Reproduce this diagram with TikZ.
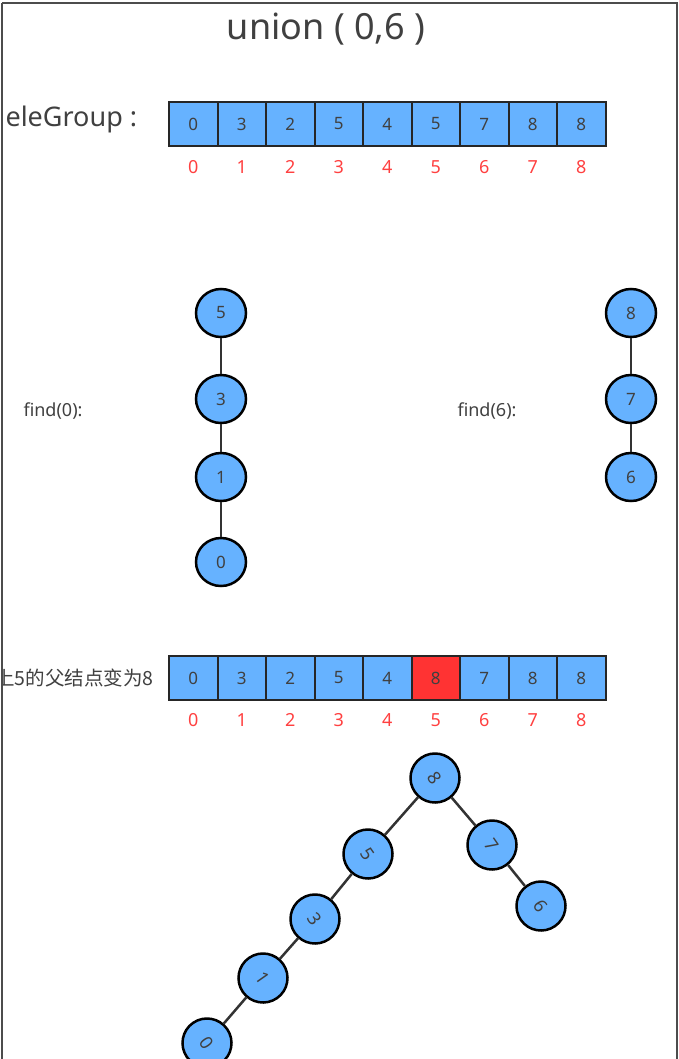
\documentclass[tikz,border=0pt]{standalone}
\usepackage{fontspec}
\setmainfont{Noto Sans}
\newfontfamily\cjkfont{Noto Sans CJK SC}
\usepackage{tikz}
\usetikzlibrary{shapes,arrows}
\usepackage{xcolor}

\definecolor{cellblue}{RGB}{102,178,255}
\definecolor{cellred}{RGB}{255,51,51}
\definecolor{idxred}{RGB}{255,64,64}
\definecolor{txtgray}{RGB}{64,64,64}

\tikzset{
	cell/.style={draw=black!85, line width=2pt, fill=cellblue, minimum width=48.5pt, minimum height=44pt, inner sep=0pt, text=txtgray, font=\fontsize{17}{17}\selectfont},
	idx/.style={text=idxred, font=\fontsize{18}{18}\selectfont},
	vnode/.style={ellipse, draw=black, line width=2.5pt, fill=cellblue, minimum width=50pt, minimum height=48pt, inner sep=0pt, text=txtgray, font=\fontsize{17}{17}\selectfont},
	tnode/.style={circle, draw=black, line width=2.5pt, fill=cellblue, minimum size=49pt, inner sep=0pt, text=txtgray, font=\fontsize{18}{18}\selectfont, rotate=-55},
	link/.style={draw=black!80, line width=2.5pt},
	caption/.style={text=txtgray, font=\fontsize{18}{18}\selectfont}
}

\begin{document}
\begin{tikzpicture}[x=1pt,y=-1pt]
		\useasboundingbox (0,0) rectangle (679,1059);
		\draw[black!70, line width=2.5pt] (2,3) -- (677,3) -- (677,1070);
		\draw[black!70, line width=2.5pt] (2,3) -- (2,1070);
		\node[text=txtgray, font=\fontsize{36}{36}\selectfont] (title) at (326,29) {union ( 0,6 )};
		% first array
		\node[anchor=west, text=txtgray, font=\fontsize{27}{27}\selectfont] (elegroup) at (2,119) {eleGroup :};
		\foreach \v [count=\i from 0] in {0,3,2,5,4,5,7,8,8} {
			\node[cell] (a\i) at (193.25+48.5*\i,124) {\v};
			\node[idx] (ai\i) at (193.25+48.5*\i,167) {\i};
		}
		% find(0)
		\node[caption] (findA) at (53,411) {find(0):};
		\node[vnode] (p5) at (221,313) {5};
		\node[vnode] (p3) at (221,399) {3};
		\node[vnode] (p1) at (221,477) {1};
		\node[vnode] (p0) at (221,562) {0};
		\draw[link] (p5) -- (p3) (p3) -- (p1) (p1) -- (p0);
		% find(6)
		\node[caption] (findB) at (487,411) {find(6):};
		\node[vnode] (q8) at (631,313) {8};
		\node[vnode] (q7) at (631,399) {7};
		\node[vnode] (q6) at (631,477) {6};
		\draw[link] (q8) -- (q7) (q7) -- (q6);
		% second array
		\begin{scope}
			\clip (3,640) rectangle (170,710);
			\node[anchor=east, text=txtgray, font=\cjkfont\fontsize{19.5}{19.5}\selectfont] (note) at (157,678) {上5的父结点变为8};
		\end{scope}
		\foreach \v [count=\i from 0] in {0,3,2,5,4,8,7,8,8} {
			\node[cell] (b\i) at (193.25+48.5*\i,678) {\v};
			\node[idx] (bi\i) at (193.25+48.5*\i,720) {\i};
		}
		\node[cell, fill=cellred] (b5) at (193.25+48.5*5,678) {8};
		% merged tree
		\node[tnode] (t8) at (435,778) {8};
		\node[tnode] (t5) at (368,854) {5};
		\node[tnode] (t3) at (315,919) {3};
		\node[tnode] (t1) at (263,978) {1};
		\node[tnode] (t0) at (207,1043) {0};
		\node[tnode] (t7) at (492,845) {7};
		\node[tnode] (t6) at (541,906) {6};
		\draw[link] (t8) -- (t5) (t5) -- (t3) (t3) -- (t1) (t1) -- (t0);
		\draw[link] (t8) -- (t7) (t7) -- (t6);
\end{tikzpicture}
\end{document}
